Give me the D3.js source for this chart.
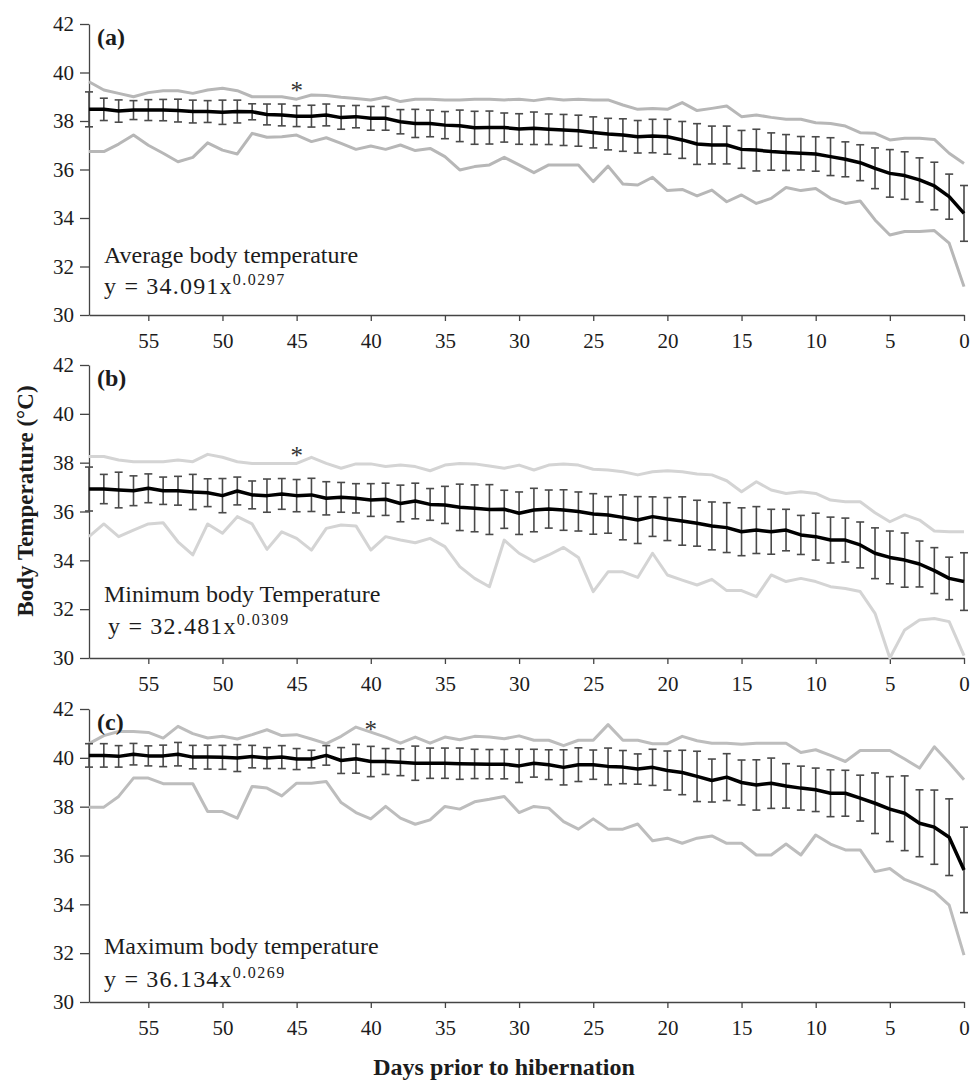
<!DOCTYPE html>
<html>
<head>
<meta charset="utf-8">
<script src="https://cdn.jsdelivr.net/npm/d3@7"></script>
<style>
  html, body { margin: 0; padding: 0; background: #fff; }
  svg { display: block; font-family: "Liberation Serif", "Times New Roman", serif; }
</style>
</head>
<body>
<svg id="chart" width="971" height="1080"></svg>
<script>
// ---------------- DATA (days 59 -> 0) ----------------
const days = [59,58,57,56,55,54,53,52,51,50,49,48,47,46,45,44,43,42,41,40,
              39,38,37,36,35,34,33,32,31,30,29,28,27,26,25,24,23,22,21,20,
              19,18,17,16,15,14,13,12,11,10,9,8,7,6,5,4,3,2,1,0];
const xTicks = [55,50,45,40,35,30,25,20,15,10,5,0];
const yTicks = [30,32,34,36,38,40,42];

// (a) Average body temperature
const avgMean = [38.48,38.48,38.41,38.45,38.45,38.45,38.43,38.39,38.39,38.36,
                 38.39,38.38,38.27,38.25,38.20,38.20,38.25,38.14,38.18,38.11,
                 38.11,37.97,37.90,37.90,37.83,37.80,37.72,37.73,37.73,37.67,
                 37.70,37.66,37.63,37.60,37.53,37.46,37.42,37.35,37.38,37.35,
                 37.22,37.05,37.01,37.01,36.83,36.80,36.74,36.70,36.67,36.64,
                 36.53,36.42,36.28,36.05,35.84,35.75,35.57,35.32,34.88,34.19];
const avgErr  = [0.72,0.46,0.46,0.39,0.43,0.44,0.47,0.47,0.45,0.50,
                 0.47,0.33,0.43,0.45,0.43,0.45,0.45,0.48,0.46,0.49,
                 0.49,0.50,0.58,0.55,0.56,0.65,0.68,0.68,0.60,0.63,
                 0.67,0.63,0.64,0.64,0.64,0.65,0.67,0.67,0.69,0.72,
                 0.76,0.84,0.78,0.78,0.78,0.86,0.77,0.74,0.69,0.71,
                 0.78,0.72,0.74,0.84,0.98,0.98,0.91,0.98,0.93,1.15];
const avgUpper = [39.62,39.28,39.14,39.00,39.17,39.25,39.25,39.14,39.28,39.35,
                  39.25,39.00,39.00,39.00,38.90,39.07,39.05,38.98,38.93,38.87,
                  38.98,38.80,38.90,38.90,38.87,38.87,38.90,38.90,38.87,38.90,
                  38.84,38.93,38.87,38.90,38.87,38.87,38.66,38.48,38.52,38.48,
                  38.76,38.43,38.52,38.62,38.18,38.25,38.15,38.07,38.07,37.93,
                  37.90,37.79,37.52,37.49,37.22,37.29,37.29,37.24,36.67,36.25];
const avgLower = [36.74,36.74,37.05,37.42,37.00,36.67,36.32,36.50,37.10,36.80,
                  36.64,37.49,37.33,37.35,37.42,37.15,37.31,37.08,36.83,36.97,
                  36.83,37.01,36.78,36.87,36.53,35.98,36.12,36.19,36.50,36.19,
                  35.87,36.19,36.19,36.19,35.50,36.14,35.40,35.36,35.68,35.13,
                  35.18,34.91,35.15,34.67,34.95,34.60,34.81,35.26,35.13,35.22,
                  34.81,34.60,34.70,33.92,33.30,33.44,33.44,33.48,32.96,31.17];

// (b) Minimum body temperature
const minMean = [36.92,36.92,36.88,36.85,36.95,36.85,36.85,36.80,36.77,36.65,
                 36.84,36.68,36.65,36.72,36.65,36.68,36.54,36.58,36.54,36.47,
                 36.50,36.33,36.43,36.29,36.27,36.17,36.13,36.08,36.09,35.93,
                 36.06,36.10,36.06,36.00,35.90,35.86,35.76,35.65,35.79,35.69,
                 35.61,35.52,35.41,35.34,35.17,35.24,35.17,35.24,35.04,34.97,
                 34.83,34.83,34.63,34.29,34.12,34.01,33.85,33.58,33.26,33.13];
const minErr  = [0.90,0.60,0.73,0.61,0.59,0.56,0.59,0.72,0.57,0.70,
                 0.57,0.57,0.68,0.63,0.66,0.68,0.68,0.61,0.60,0.67,
                 0.66,0.75,0.73,0.65,0.76,0.95,0.96,1.02,0.78,0.87,
                 0.89,0.78,0.83,0.80,0.83,0.75,0.92,0.96,0.81,0.88,
                 0.99,0.94,0.98,1.02,0.98,0.96,0.92,0.85,0.80,0.96,
                 0.94,0.90,0.94,1.04,1.08,1.11,0.94,0.94,0.87,1.18];
const minUpper = [38.25,38.25,38.11,38.04,38.04,38.04,38.11,38.04,38.34,38.22,
                  38.04,37.97,37.97,37.97,37.97,38.22,37.97,37.77,37.95,37.95,
                  37.84,37.90,37.84,37.67,37.90,37.97,37.95,37.86,37.77,37.90,
                  37.70,37.90,37.95,37.90,37.73,37.70,37.63,37.50,37.63,37.67,
                  37.63,37.54,37.50,37.26,36.81,37.22,36.88,36.74,36.81,36.74,
                  36.47,36.40,36.40,35.95,35.58,35.86,35.65,35.20,35.17,35.17];
const minLower = [34.97,35.49,34.97,35.24,35.49,35.54,34.76,34.22,35.49,35.11,
                  35.79,35.49,34.45,35.17,34.90,34.42,35.31,35.45,35.41,34.42,
                  34.97,34.83,34.72,34.90,34.56,33.74,33.26,32.92,34.83,34.29,
                  33.95,34.22,34.53,34.12,32.72,33.53,33.53,33.30,34.29,33.40,
                  33.19,32.99,33.22,32.76,32.76,32.51,33.40,33.13,33.26,33.13,
                  32.92,32.85,32.72,31.83,30.00,31.15,31.56,31.62,31.49,30.10];

// (c) Maximum body temperature
const maxMean = [40.10,40.10,40.06,40.15,40.08,40.08,40.15,40.03,40.03,40.02,
                 39.99,40.05,39.99,40.03,39.95,39.95,40.10,39.89,39.96,39.85,
                 39.85,39.82,39.78,39.78,39.78,39.76,39.75,39.74,39.74,39.67,
                 39.78,39.72,39.61,39.72,39.72,39.65,39.62,39.54,39.61,39.48,
                 39.40,39.24,39.07,39.21,38.99,38.89,38.96,38.85,38.76,38.69,
                 38.55,38.55,38.35,38.14,37.90,37.73,37.32,37.16,36.75,35.41];
const maxErr  = [0.48,0.48,0.44,0.44,0.41,0.44,0.48,0.48,0.49,0.49,
                 0.55,0.46,0.43,0.47,0.43,0.36,0.40,0.53,0.59,0.62,
                 0.53,0.55,0.70,0.62,0.62,0.64,0.60,0.60,0.60,0.68,
                 0.57,0.61,0.72,0.69,0.60,0.75,0.68,0.62,0.74,0.80,
                 0.91,1.03,0.88,0.96,0.92,1.03,1.03,0.91,0.90,0.89,
                 0.96,0.94,0.94,1.24,1.33,1.53,1.37,1.52,1.57,1.75];
const maxUpper = [40.58,40.91,41.08,41.08,41.04,40.81,41.29,40.99,40.81,40.88,
                  40.77,40.95,41.15,40.91,40.95,40.77,40.58,40.88,41.26,41.05,
                  40.85,40.60,40.85,40.60,40.85,40.74,40.88,40.85,40.78,40.90,
                  40.72,40.72,40.50,40.72,40.72,41.36,40.72,40.72,40.58,40.58,
                  40.88,40.70,40.60,40.60,40.56,40.60,40.60,40.60,40.22,40.33,
                  40.10,39.85,40.30,40.30,40.30,39.95,39.58,40.45,39.80,39.10];
const maxLower = [37.98,37.98,38.42,39.17,39.17,38.94,38.94,38.94,37.80,37.80,
                  37.53,38.83,38.76,38.44,38.96,38.96,39.03,38.17,37.76,37.50,
                  38.01,37.53,37.28,37.46,38.01,37.90,38.20,38.30,38.42,37.76,
                  38.01,37.94,37.39,37.08,37.50,37.08,37.08,37.29,36.60,36.71,
                  36.50,36.71,36.80,36.50,36.50,36.02,36.02,36.47,36.02,36.84,
                  36.47,36.23,36.23,35.34,35.47,35.02,34.79,34.52,33.97,31.92];

const panelLabels = ["(a)", "(b)", "(c)"];
const panelTitles = ["Average body temperature", "Minimum body Temperature", "Maximum body temperature"];
const eqCoef = ["y = 34.091x", "y = 32.481x", "y = 36.134x"];
const eqExp  = ["0.0297", "0.0309", "0.0269"];
const starDay = [45, 45, 40];
const xTitle = "Days prior to hibernation";
const yTitle = "Body Temperature (\u00B0C)";

// ---------------- LAYOUT ----------------
const series = [
  {mean: avgMean, err: avgErr, upper: avgUpper, lower: avgLower},
  {mean: minMean, err: minErr, upper: minUpper, lower: minLower},
  {mean: maxMean, err: maxErr, upper: maxUpper, lower: maxLower}
];
const layout = [
  {top: 24,  bottom: 315,  grey: "#b7b7b7", starY: 99,  titleY: 263, eqY: 294, eqX: 104},
  {top: 365, bottom: 658,  grey: "#d4d4d4", starY: 464, titleY: 602, eqY: 634, eqX: 108},
  {top: 709, bottom: 1002, grey: "#bdbdbd", starY: 738, titleY: 954, eqY: 987, eqX: 104}
];
const left = 89, right = 964;
const textColor = "#1c1c1c";
const axisColor = "#444";

const svg = d3.select("#chart");
const x = d3.scaleLinear().domain([59, 0]).range([left, right]);

layout.forEach((L, i) => {
  const S = series[i];
  const y = d3.scaleLinear().domain([30, 42]).range([L.bottom, L.top]);
  const g = svg.append("g");

  // axes
  const yAxis = g.append("g").attr("transform", `translate(${left},0)`)
    .call(d3.axisLeft(y).tickValues(yTicks).tickSize(9).tickSizeOuter(0).tickPadding(6).tickFormat(d3.format("d")));
  const xAxis = g.append("g").attr("transform", `translate(0,${L.bottom})`)
    .call(d3.axisBottom(x).tickValues(xTicks).tickSize(6).tickSizeOuter(0).tickPadding(12).tickFormat(d3.format("d")));
  [yAxis, xAxis].forEach(a => {
    a.selectAll("path,line").attr("stroke", axisColor).attr("stroke-width", 1.3);
    a.selectAll("text").attr("fill", textColor).style("font-size", "21px")
      .style("font-family", '"Liberation Serif", "Times New Roman", serif');
  });

  const idx = d3.range(days.length);

  // grey max/min lines
  const lineUp = d3.line().x(k => x(days[k])).y(k => y(S.upper[k]));
  const lineLo = d3.line().x(k => x(days[k])).y(k => y(S.lower[k]));
  g.append("path").attr("d", lineUp(idx)).attr("fill", "none")
    .attr("stroke", L.grey).attr("stroke-width", 3).attr("stroke-linejoin", "round");
  g.append("path").attr("d", lineLo(idx)).attr("fill", "none")
    .attr("stroke", L.grey).attr("stroke-width", 3).attr("stroke-linejoin", "round");

  // error bars
  const eb = g.append("g").attr("stroke", "#4a4a4a").attr("stroke-width", 1.6);
  idx.forEach(k => {
    const cx = x(days[k]);
    const y1 = y(S.mean[k] + S.err[k]), y2 = y(S.mean[k] - S.err[k]);
    eb.append("line").attr("x1", cx).attr("x2", cx).attr("y1", y1).attr("y2", y2);
    eb.append("line").attr("x1", cx - 4).attr("x2", cx + 4).attr("y1", y1).attr("y2", y1);
    eb.append("line").attr("x1", cx - 4).attr("x2", cx + 4).attr("y1", y2).attr("y2", y2);
  });

  // mean line
  const lineM = d3.line().x(k => x(days[k])).y(k => y(S.mean[k]));
  g.append("path").attr("d", lineM(idx)).attr("fill", "none")
    .attr("stroke", "#000").attr("stroke-width", 3.5).attr("stroke-linejoin", "round");

  // panel label
  g.append("text").attr("x", 97).attr("y", L.top + 21).text(panelLabels[i])
    .attr("fill", textColor).style("font-size", "24px").style("font-weight", "bold");

  // asterisk
  g.append("text").attr("x", x(starDay[i])).attr("y", L.starY).attr("text-anchor", "middle")
    .text("*").attr("fill", "#333").style("font-size", "25px");

  // annotation
  g.append("text").attr("x", 104).attr("y", L.titleY).text(panelTitles[i])
    .attr("fill", textColor).style("font-size", "24px");
  const eq = g.append("text").attr("x", L.eqX).attr("y", L.eqY)
    .attr("fill", textColor).style("font-size", "24px").style("letter-spacing", "1.2px");
  eq.append("tspan").text(eqCoef[i]);
  eq.append("tspan").attr("dy", -9).style("font-size", "16px").style("letter-spacing", "1.5px").text(eqExp[i]);
});

// axis titles
svg.append("text").attr("x", 504).attr("y", 1075).attr("text-anchor", "middle")
  .text(xTitle).attr("fill", textColor).style("font-size", "24px").style("font-weight", "bold");
svg.append("text").attr("transform", "translate(33,501) rotate(-90)").attr("text-anchor", "middle")
  .text(yTitle).attr("fill", textColor).style("font-size", "23px").style("font-weight", "bold");
</script>
</body>
</html>
